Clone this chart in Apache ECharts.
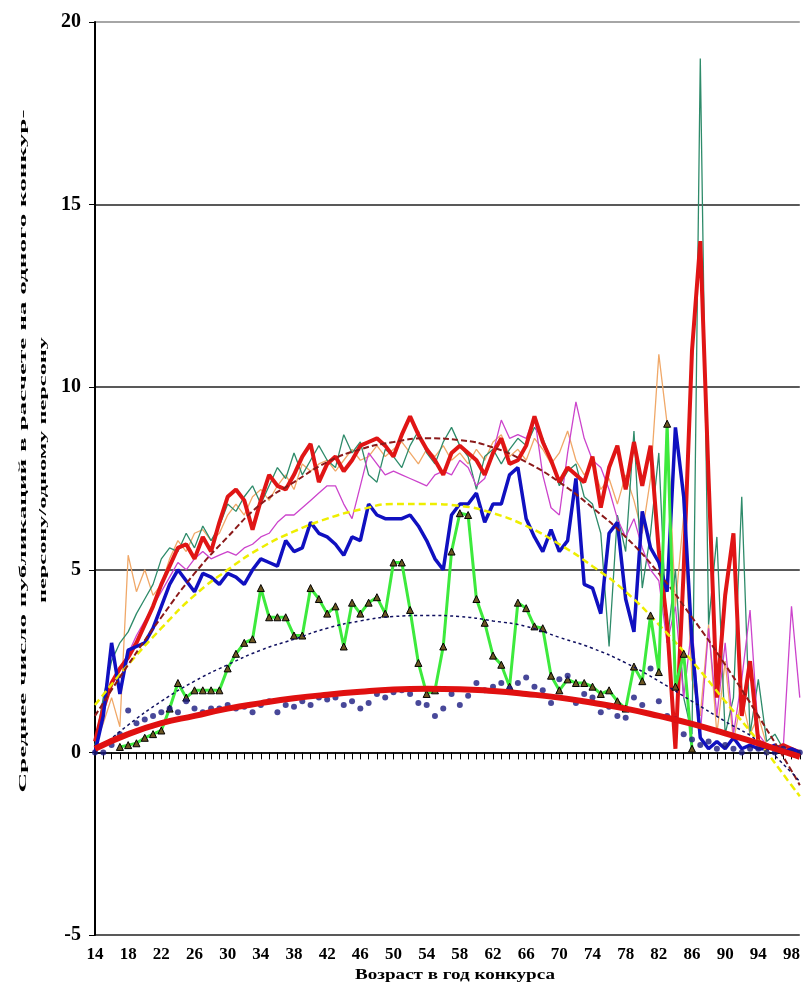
<!DOCTYPE html>
<html><head><meta charset="utf-8">
<script src="https://cdn.jsdelivr.net/npm/echarts@6/dist/echarts.min.js"></script>
<style>html,body{margin:0;padding:0;background:#fff}#c{width:803px;height:993px}</style>
</head><body><div id="c"></div>
<script>
const ages = ['14','15','16','17','18','19','20','21','22','23',
 '24','25','26','27','28','29','30','31','32','33',
 '34','35','36','37','38','39','40','41','42','43',
 '44','45','46','47','48','49','50','51','52','53',
 '54','55','56','57','58','59','60','61','62','63',
 '64','65','66','67','68','69','70','71','72','73',
 '74','75','76','77','78','79','80','81','82','83',
 '84','85','86','87','88','89','90','91','92','93',
 '94','95','96','97','98','99'];

const redLine = [0.3,1.2,1.9,2.3,2.6,3.0,3.5,4.0,4.6,5.1,
 5.6,5.7,5.3,5.9,5.5,6.3,7.0,7.2,6.9,6.1,
 6.9,7.6,7.3,7.2,7.6,8.1,8.45,7.4,7.9,8.1,
 7.7,8.0,8.4,8.5,8.6,8.4,8.1,8.7,9.2,8.7,
 8.3,8.0,7.6,8.2,8.4,8.2,8.0,7.6,8.2,8.6,
 7.9,8.0,8.4,9.2,8.5,8.0,7.4,7.8,7.6,7.4,
 8.1,6.7,7.8,8.4,7.2,8.5,7.3,8.4,5.5,3.5,
 0.1,5.0,11.0,14.0,7.5,1.5,4.3,6.0,1.0,2.5,
 0.3,0.2,0.1,0.2,0.1,0.0];

const blueLine = [0.0,1.0,3.0,1.6,2.8,2.9,3.0,3.4,4.0,4.6,
 5.0,4.7,4.4,4.9,4.8,4.6,4.9,4.8,4.6,5.0,
 5.3,5.2,5.1,5.8,5.5,5.6,6.3,6.0,5.9,5.7,
 5.4,5.9,5.8,6.8,6.5,6.4,6.4,6.4,6.5,6.2,
 5.8,5.3,5.0,6.5,6.8,6.8,7.1,6.3,6.8,6.8,
 7.6,7.8,6.4,5.9,5.5,6.1,5.5,5.8,7.5,4.6,
 4.5,3.8,6.0,6.3,4.2,3.3,6.6,5.6,5.2,4.4,
 8.9,7.0,3.0,0.4,0.1,0.3,0.1,0.4,0.1,0.2,
 0.1,0.1,0.2,0.0,0.1,0.0];

const tealLine = [0.2,1.5,2.5,3.0,3.3,3.8,4.2,4.6,5.3,5.6,
 5.5,6.0,5.6,6.2,5.8,6.2,6.8,6.6,7.0,7.3,
 6.8,7.3,7.8,7.5,8.2,7.6,8.0,8.4,8.0,7.8,
 8.7,8.2,8.5,7.6,7.4,8.3,8.1,7.8,8.4,8.8,
 8.2,7.9,8.5,8.9,8.4,8.1,7.2,8.1,8.3,7.9,
 8.3,8.6,8.4,8.9,8.6,8.0,7.3,7.7,7.9,7.0,
 6.8,6.0,2.9,6.5,5.5,8.8,4.5,6.0,8.2,3.0,
 5.0,1.5,0.5,19.0,3.5,5.9,0.5,1.5,7.0,0.5,
 2.0,0.3,0.5,0.1,0.0,0.0];

const magentaLine = [null,null,1.8,2.3,2.7,3.2,3.6,4.0,4.4,4.8,
 5.2,5.0,5.3,5.5,5.3,5.4,5.5,5.4,5.6,5.7,
 5.9,6.0,6.3,6.5,6.5,6.7,6.9,7.1,7.3,7.3,
 6.8,6.4,7.3,8.2,7.9,7.6,7.7,7.6,7.5,7.4,
 7.3,7.6,7.7,7.6,8.0,7.8,7.3,7.5,8.2,9.1,
 8.6,8.7,8.6,9.2,7.6,6.7,6.5,8.2,9.6,8.6,
 8.0,7.8,7.2,6.4,5.9,6.4,5.6,5.0,4.7,3.0,
 4.0,1.5,3.5,0.5,3.4,1.0,3.0,0.5,2.0,3.9,
 0.5,0.2,0.1,0.1,4.0,1.5];

const orangeLine = [0.2,0.8,1.5,0.7,5.4,4.4,5.0,4.3,4.6,5.3,
 5.8,5.5,6.0,6.1,5.8,6.0,6.5,6.8,6.5,7.0,
 7.2,6.9,7.3,7.6,7.2,7.9,7.7,7.9,8.0,7.7,
 8.0,8.3,8.0,8.1,8.4,8.1,8.3,8.5,8.2,7.9,
 8.3,8.1,8.4,8.0,8.2,7.9,8.3,8.0,8.5,8.7,
 8.1,8.3,8.0,8.6,8.3,7.9,8.2,8.8,8.0,7.6,
 7.9,7.2,7.5,6.8,7.6,6.9,6.0,7.5,10.9,9.0,
 4.0,6.5,2.0,1.0,3.5,0.5,2.5,0.3,1.5,0.5,
 1.0,0.2,0.1,0.1,0.0,0.0];

const greenLine = [null,null,null,0.15,0.2,0.25,0.4,0.5,0.6,1.2,
 1.9,1.5,1.7,1.7,1.7,1.7,2.3,2.7,3.0,3.1,
 4.5,3.7,3.7,3.7,3.2,3.2,4.5,4.2,3.8,4.0,
 2.9,4.1,3.8,4.1,4.25,3.8,5.2,5.2,3.9,2.45,
 1.6,1.7,2.9,5.5,6.55,6.5,4.2,3.55,2.65,2.4,
 1.8,4.1,3.95,3.45,3.4,2.1,1.7,2.0,1.9,1.9,
 1.8,1.6,1.7,1.4,1.2,2.35,1.95,3.75,2.2,9.0,
 1.8,2.7,0.1,null,null,null,null,null,null,null,
 null,null,null,null,null,null];

const navyDots = [0.0,0.0,0.2,0.5,1.15,0.8,0.9,1.0,1.1,1.2,
 1.1,1.4,1.2,1.1,1.2,1.2,1.3,1.2,1.25,1.1,
 1.3,1.4,1.1,1.3,1.25,1.4,1.3,1.5,1.45,1.5,
 1.3,1.4,1.2,1.35,1.6,1.5,1.65,1.7,1.6,1.35,
 1.3,1.0,1.2,1.6,1.3,1.55,1.9,1.7,1.8,1.9,
 1.75,1.9,2.05,1.8,1.7,1.35,2.0,2.1,1.35,1.6,
 1.5,1.1,1.25,1.0,0.95,1.5,1.3,2.3,1.4,1.0,
 0.9,0.5,0.35,0.2,0.3,0.1,0.2,0.1,0.0,0.1,
 0.1,0.0,0.0,0.1,0.0,0.0];

// trend lines read at every 4th age
const trendAges = ['14','18','22','26','30','34','38','42','46','50','54','58','62','66','70','74','78','82','86','90','94','98','99'];
const redTrend    = [0.1,0.5,0.8,1.0,1.2,1.35,1.48,1.58,1.66,1.72,1.74,1.73,1.68,1.6,1.5,1.36,1.2,1.0,0.78,0.52,0.25,-0.05,-0.12];
const brownTrend  = [1.0,2.4,3.7,4.9,5.9,6.8,7.4,7.95,8.3,8.5,8.6,8.55,8.35,7.95,7.4,6.7,5.9,4.9,3.7,2.4,1.0,-0.5,-0.9];
const yellowTrend = [1.3,2.4,3.4,4.3,5.0,5.6,6.05,6.4,6.65,6.8,6.8,6.75,6.55,6.2,5.7,5.1,4.4,3.5,2.5,1.4,0.3,-0.9,-1.2];
const navyTrend   = [0.0,0.75,1.4,1.95,2.4,2.8,3.1,3.4,3.6,3.72,3.75,3.72,3.6,3.45,3.15,2.85,2.45,1.95,1.4,0.85,0.3,-0.55,-0.8];

const yTitle1 = 'Среднее число публикаций в расчете на одного конкур-';
const yTitle2 = 'персону/одному персону';
const xTitle = 'Возраст в год конкурса';

function pairs(vals){ return trendAges.map((a,i)=>[a, vals[i]]); }
function measure(t, font){ const c=document.createElement('canvas').getContext('2d'); c.font=font; return c.measureText(t).width; }

const SERIF = '"Liberation Serif", "DejaVu Serif", serif';
const yFont = 'bold 11px ' + SERIF;
const xFont = 'bold 14px ' + SERIF;

const chart = echarts.init(document.getElementById('c'), null, {renderer:'canvas'});

function thin(name, data, color, z){
  return {name, type:'line', data, symbol:'none', z, lineStyle:{width:1.3, color}, itemStyle:{color}};
}
function trend(name, data, color, width, type, z){
  return {name, type:'line', data:pairs(data), symbol:'none', smooth:true, connectNulls:true, z,
    lineStyle:{width, color, type}, itemStyle:{color}};
}

const option = {
  animation:false,
  backgroundColor:'#ffffff',
  grid:{left:95, top:22, width:710, height:913, containLabel:false},
  xAxis:{type:'category', data:ages, boundaryGap:false,
    axisLine:{onZero:true, lineStyle:{color:'#000', width:1.5}},
    axisTick:{show:true, interval:0, length:7, lineStyle:{color:'#000', width:1}},
    axisLabel:{interval:3, color:'#000', fontFamily:SERIF, fontWeight:'bold', fontSize:17, margin:11},
    splitLine:{show:false}},
  yAxis:{type:'value', min:-5, max:20, interval:5,
    axisLine:{show:true, onZero:false, lineStyle:{color:'#000', width:2}},
    axisTick:{show:true, length:6, lineStyle:{color:'#000', width:1}},
    axisLabel:{color:'#000', fontFamily:SERIF, fontWeight:'bold', fontSize:20, margin:14},
    splitLine:{show:true, lineStyle:{color:['#222','#222','#222','#222','#222','#888'], width:1.5}}},
  graphic:[
    {type:'text', x:23, y:451, rotation:Math.PI/2, scaleX:683/measure(yTitle1,yFont),
     style:{text:yTitle1, font:yFont, fill:'#000', align:'center', verticalAlign:'middle'}},
    {type:'text', x:43, y:470, rotation:Math.PI/2, scaleX:266/measure(yTitle2,yFont),
     style:{text:yTitle2, font:yFont, fill:'#000', align:'center', verticalAlign:'middle'}},
    {type:'text', x:455, y:975, scaleX:200/measure(xTitle,xFont),
     style:{text:xTitle, font:xFont, fill:'#000', align:'center', verticalAlign:'middle'}}
  ],
  series:[
    thin('orange', orangeLine, '#f0a868', 2),
    thin('teal', tealLine, '#2e8b6a', 3),
    thin('magenta', magentaLine, '#cc44cc', 4),
    {name:'red', type:'line', data:redLine, symbol:'none', z:5, lineStyle:{width:4, color:'#e01515'}, itemStyle:{color:'#e01515'}},
    {name:'blue', type:'line', data:blueLine, symbol:'none', z:6, lineStyle:{width:3.5, color:'#1010c0'}, itemStyle:{color:'#1010c0'}},
    trend('yellowTrend', yellowTrend, '#eeee00', 2.5, [7,4], 7),
    trend('brownTrend', brownTrend, '#8b1a1a', 2, [6,3], 7),
    {name:'green', type:'line', data:greenLine, z:8, symbol:'triangle', symbolSize:7, showSymbol:true, showAllSymbol:true,
     lineStyle:{width:3, color:'#3dea3d'}, itemStyle:{color:'#6b5523', borderColor:'#000', borderWidth:1}},
    {name:'dots', type:'scatter', data:navyDots, z:9, symbol:'circle', symbolSize:6, itemStyle:{color:'#1a1a80'}},
    trend('navyTrend', navyTrend, '#101060', 1.5, [3,3], 10),
    trend('redTrend', redTrend, '#e01010', 6, 'solid', 11)
  ]
};
chart.setOption(option);
</script></body></html>
